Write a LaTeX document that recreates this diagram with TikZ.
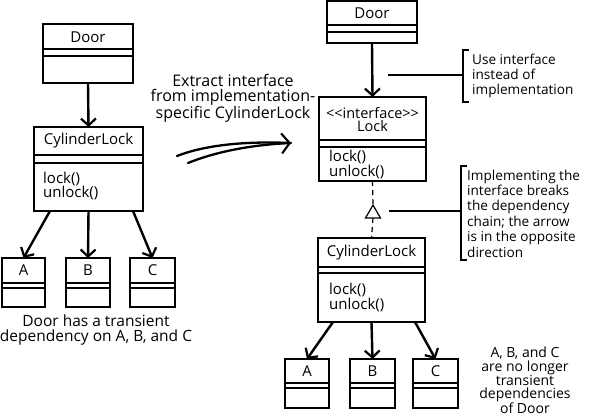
\documentclass[tikz,border=0pt]{standalone}
\usepackage{fontspec}
\setmainfont{Open Sans}
\usetikzlibrary{arrows.meta,shapes.geometric}
\newcommand\umlclass[7]{%
  \node[box, minimum width={#4-#2}, minimum height={#5-#3}] (#1) at ({(#2+#4)/2},{(#3+#5)/2}) {};
  \draw[divider] (#2,#6) -- (#4,#6) (#2,#7) -- (#4,#7);
}
\begin{document}
\begin{tikzpicture}[x=1pt,y=-1pt,
  box/.style={draw, line width=2.4pt, inner sep=0pt, outer sep=0pt},
  divider/.style={line width=1.9pt},
  dep/.style={line width=2.4pt, -{Straight Barb[length=7pt,width=15pt,line width=2.2pt]}},
  lbl/.style={font=\fontsize{15}{14}\selectfont, inner sep=0pt},
  meth/.style={font=\fontsize{15}{14.5}\selectfont, inner sep=0pt, anchor=west, align=left},
  captxt/.style={font=\fontsize{15.5}{15}\selectfont, inner sep=0pt, align=center},
  ifacetxt/.style={font=\fontsize{14.5}{13}\selectfont, inner sep=0pt, align=center},
  notetxt/.style={font=\fontsize{13.6}{15.4}\selectfont, inner sep=0pt, anchor=west, align=left},
  thinline/.style={line width=1.2pt},
  ]
\useasboundingbox[fill=white] (0,0) rectangle (590,418);

% ---------- left diagram ----------
\umlclass{doorL}{43}{24}{133}{83}{49}{56}
\node[lbl] (doorLt) at (88,37) {Door};

\umlclass{clL}{34}{127}{143}{211}{155}{163}
\node[lbl] (clLt) at (88.5,141) {CylinderLock};
\node[meth] (clLm) at (43,186) {lock()\\unlock()};

\umlclass{aL}{2}{258}{45}{307}{283}{288}
\node[lbl] (aLt) at (23.5,270.5) {A};
\umlclass{bL}{66}{258}{110}{307}{283}{288}
\node[lbl] (bLt) at (88,270.5) {B};
\umlclass{cL}{130}{258}{175}{307}{283}{288}
\node[lbl] (cLt) at (152.5,270.5) {C};

\draw[dep] (doorL.south) -- (clL.north);
\draw[dep] ([xshift=-38.5pt]clL.south) -- (aL.north);
\draw[dep] (clL.south) -- (bL.north);
\draw[dep] ([xshift=44.5pt]clL.south) -- (cL.north);

\node[captxt] (capL) at (96,329.5) {Door has a transient\\dependency on A, B, and C};

% ---------- middle ----------
\node[captxt, font=\fontsize{16}{15}\selectfont] (capM) at (233,98) {Extract interface\\from implementation-\\specific CylinderLock};
\coordinate (s1) at (177,156);
\coordinate (s2) at (188,163);
\coordinate (tip) at (291,143);
\draw[line width=2.3pt, line cap=round] (s1) .. controls (205,145) and (245,141) .. (tip);
\draw[line width=2.3pt, line cap=round, -{Straight Barb[length=8pt,width=20pt,line width=2.1pt]}] (s2) .. controls (215,152) and (250,145) .. (tip);

% ---------- right diagram ----------
\umlclass{doorR}{327}{1}{417}{43}{25}{32}
\node[lbl] (doorRt) at (372,13) {Door};

\umlclass{lockR}{319}{97}{426}{181}{140}{147}
\node[ifacetxt] (lockRt) at (372.5,120) {<{}<interface>{}>\\Lock};
\node[meth] (lockRm) at (329,164.5) {lock()\\unlock()};

\umlclass{clR}{318}{238}{425}{322}{267}{273}
\node[lbl] (clRt) at (371.5,252.5) {CylinderLock};
\node[meth] (clRm) at (329,297.5) {lock()\\unlock()};

\umlclass{aR}{285}{359}{329}{408}{383}{388}
\node[lbl] (aRt) at (307,371) {A};
\umlclass{bR}{350}{359}{395}{408}{383}{388}
\node[lbl] (bRt) at (372.5,371) {B};
\umlclass{cR}{413}{359}{458}{408}{383}{388}
\node[lbl] (cRt) at (435.5,371) {C};

\draw[dep] (doorR.south) -- (lockR.north);
\draw[dep] ([xshift=-38.5pt]clR.south) -- (aR.north);
\draw[dep] (clR.south) -- (bR.north);
\draw[dep] ([xshift=43.5pt]clR.south) -- (cR.north);

% realization: dashed line with hollow triangle
\node[regular polygon, regular polygon sides=3, draw, thinline, fill=white, minimum size=17.3pt, inner sep=0pt, outer sep=0pt] (tri) at (373,213.7) {};
\draw[thinline, dash pattern=on 5pt off 4pt] (lockR.south) -- (tri.north);
\draw[thinline, dash pattern=on 5pt off 4pt] (tri.south) -- (clR.north);

% notes
\coordinate (n1s) at (388,75);
\coordinate (n1b) at (463,75);
\draw[thinline] (n1s) -- (n1b);
\draw[thinline] (469,50) -- (463,50) -- (463,102) -- (469,102);
\node[notetxt] (n1) at (472,76) {Use interface\\instead of\\implementation};

\coordinate (n2s) at (389,211);
\coordinate (n2b) at (461,211);
\draw[thinline] (n2s) -- (n2b);
\draw[thinline] (467,166) -- (461,166) -- (461,260) -- (467,260);
\node[notetxt] (n2) at (467,213.5) {Implementing the\\interface breaks\\the dependency\\chain; the arrow\\is in the opposite\\direction};

\node[captxt, font=\fontsize{14}{13.8}\selectfont] (capR) at (525,380.5) {A, B, and C\\are no longer\\transient\\dependencies\\of Door};
\end{tikzpicture}
\end{document}
